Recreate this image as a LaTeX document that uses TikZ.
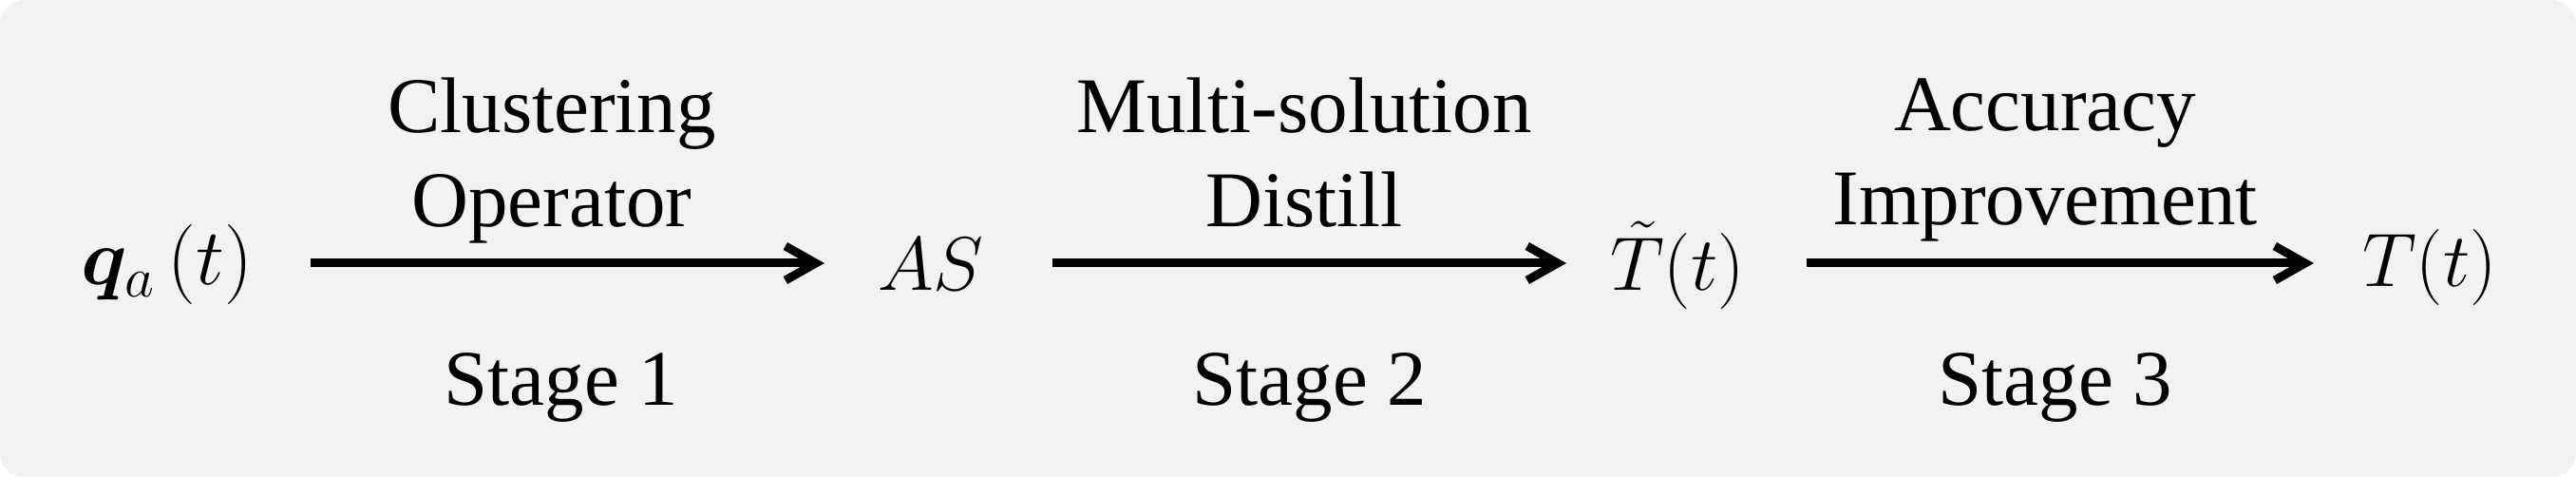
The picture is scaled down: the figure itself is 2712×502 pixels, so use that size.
\RequirePackage{fix-cm}
\documentclass[tikz,border=0pt]{standalone}
\usepackage{bm}
\usepackage{fontspec}
\setmainfont{Liberation Serif}
\usetikzlibrary{arrows.meta}
\definecolor{bgc}{HTML}{F2F2F2}
\tikzset{
  lbl/.style={inner sep=0pt, anchor=base, font=\fontsize{83}{98}\selectfont},
  mth/.style={inner sep=0pt, anchor=base, font=\fontsize{80}{96}\selectfont},
  arr/.style={line width=9pt, -{Straight Barb[length=32pt,width=36pt]}},
}
\newcommand{\subA}{\mbox{\fontsize{60}{60}\selectfont$a$}}
\begin{document}
\begin{tikzpicture}[x=1pt,y=-1pt]
\useasboundingbox (0,0) rectangle (2712,502);
\fill[white] (0,0) rectangle (2712,502);
\fill[bgc, rounded corners=25pt] (0,0) rectangle (2712,502);
\coordinate (y0) at (0,277);
% math nodes
\node[mth, font=\fontsize{84}{96}\selectfont] (q) at (176,300) {$\bm{q}_{\subA}\,(t)$};
\node[mth] (as) at (980,306) {$AS$};
\node[mth] (tt) at (1766,306) {$\tilde{T}(t)$};
\node[mth] (t) at (2558,302) {$T(t)$};
% labels
\node[lbl] (l1a) at (581,140) {Clustering};
\node[lbl] (l1b) at (581,239) {Operator};
\node[lbl] (s1) at (591,427) {Stage 1};
\node[lbl] (l2a) at (1373,140) {Multi-solution};
\node[lbl] (l2b) at (1373,239) {Distill};
\node[lbl] (s2) at (1379,427) {Stage 2};
\node[lbl] (l3a) at (2153,138) {Accuracy};
\node[lbl] (l3b) at (2153,237) {Improvement};
\node[lbl] (s3) at (2164,427) {Stage 3};
% arrows
\draw[arr, shorten <=151pt, shorten >=112pt] (q.center |- y0) -- (as.center |- y0);
\draw[arr, shorten <=128pt, shorten >=117pt] (as.center |- y0) -- (tt.center |- y0);
\draw[arr, shorten <=136pt, shorten >=122pt] (tt.center |- y0) -- (t.center |- y0);
\end{tikzpicture}
\end{document}
